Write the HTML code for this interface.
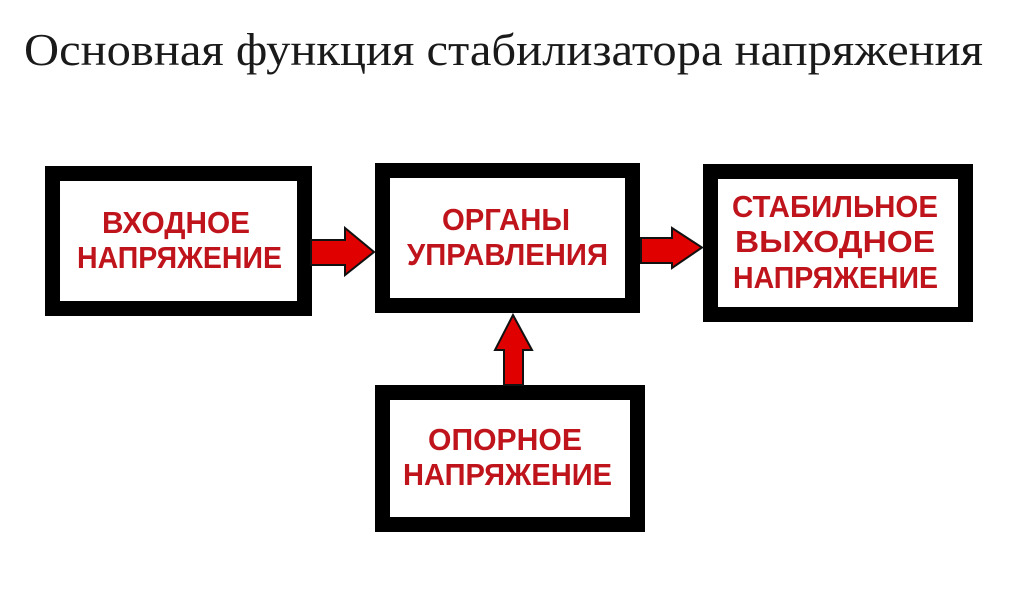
<!DOCTYPE html>
<html>
<head>
<meta charset="utf-8">
<style>
html,body{margin:0;padding:0;background:#fff;}
svg{display:block;}
</style>
</head>
<body>
<svg width="1010" height="594" viewBox="0 0 1010 594" xmlns="http://www.w3.org/2000/svg">
<rect width="1010" height="594" fill="#fff"/>
<text x="24" y="65" font-family="Liberation Serif, serif" font-size="46" fill="#1a1a1a" textLength="959" lengthAdjust="spacingAndGlyphs">Основная функция стабилизатора напряжения</text>

<g fill="#fff" stroke="#000" stroke-width="15">
<rect x="52.5" y="173.5" width="252" height="135"/>
<rect x="382.5" y="170.5" width="250" height="135"/>
<rect x="710.5" y="171.5" width="255" height="143"/>
<rect x="382.5" y="392.5" width="255" height="132"/>
</g>

<g fill="#e00000" stroke="#111" stroke-width="2" stroke-linejoin="miter">
<polygon points="311,240 345,240 345,228 374,252 345,275 345,265 311,265"/>
<polygon points="641,238 672,238 672,228 702,247.5 672,268 672,263 641,263"/>
<polygon points="504,385 504,350 495,350 513,315 532,350 523,350 523,385"/>
</g>

<g font-family="Liberation Sans, sans-serif" font-weight="bold" font-size="31" fill="#c0141c">
<text x="102" y="233" textLength="148" lengthAdjust="spacingAndGlyphs">ВХОДНОЕ</text>
<text x="77" y="268" textLength="205" lengthAdjust="spacingAndGlyphs">НАПРЯЖЕНИЕ</text>

<text x="442" y="230" textLength="128" lengthAdjust="spacingAndGlyphs">ОРГАНЫ</text>
<text x="407" y="265" textLength="201" lengthAdjust="spacingAndGlyphs">УПРАВЛЕНИЯ</text>

<text x="732" y="217" textLength="206" lengthAdjust="spacingAndGlyphs">СТАБИЛЬНОЕ</text>
<text x="735" y="252" textLength="200" lengthAdjust="spacingAndGlyphs">ВЫХОДНОЕ</text>
<text x="733" y="288" textLength="205" lengthAdjust="spacingAndGlyphs">НАПРЯЖЕНИЕ</text>

<text x="428" y="450" textLength="154" lengthAdjust="spacingAndGlyphs">ОПОРНОЕ</text>
<text x="403" y="485" textLength="209" lengthAdjust="spacingAndGlyphs">НАПРЯЖЕНИЕ</text>
</g>
</svg>
</body>
</html>
